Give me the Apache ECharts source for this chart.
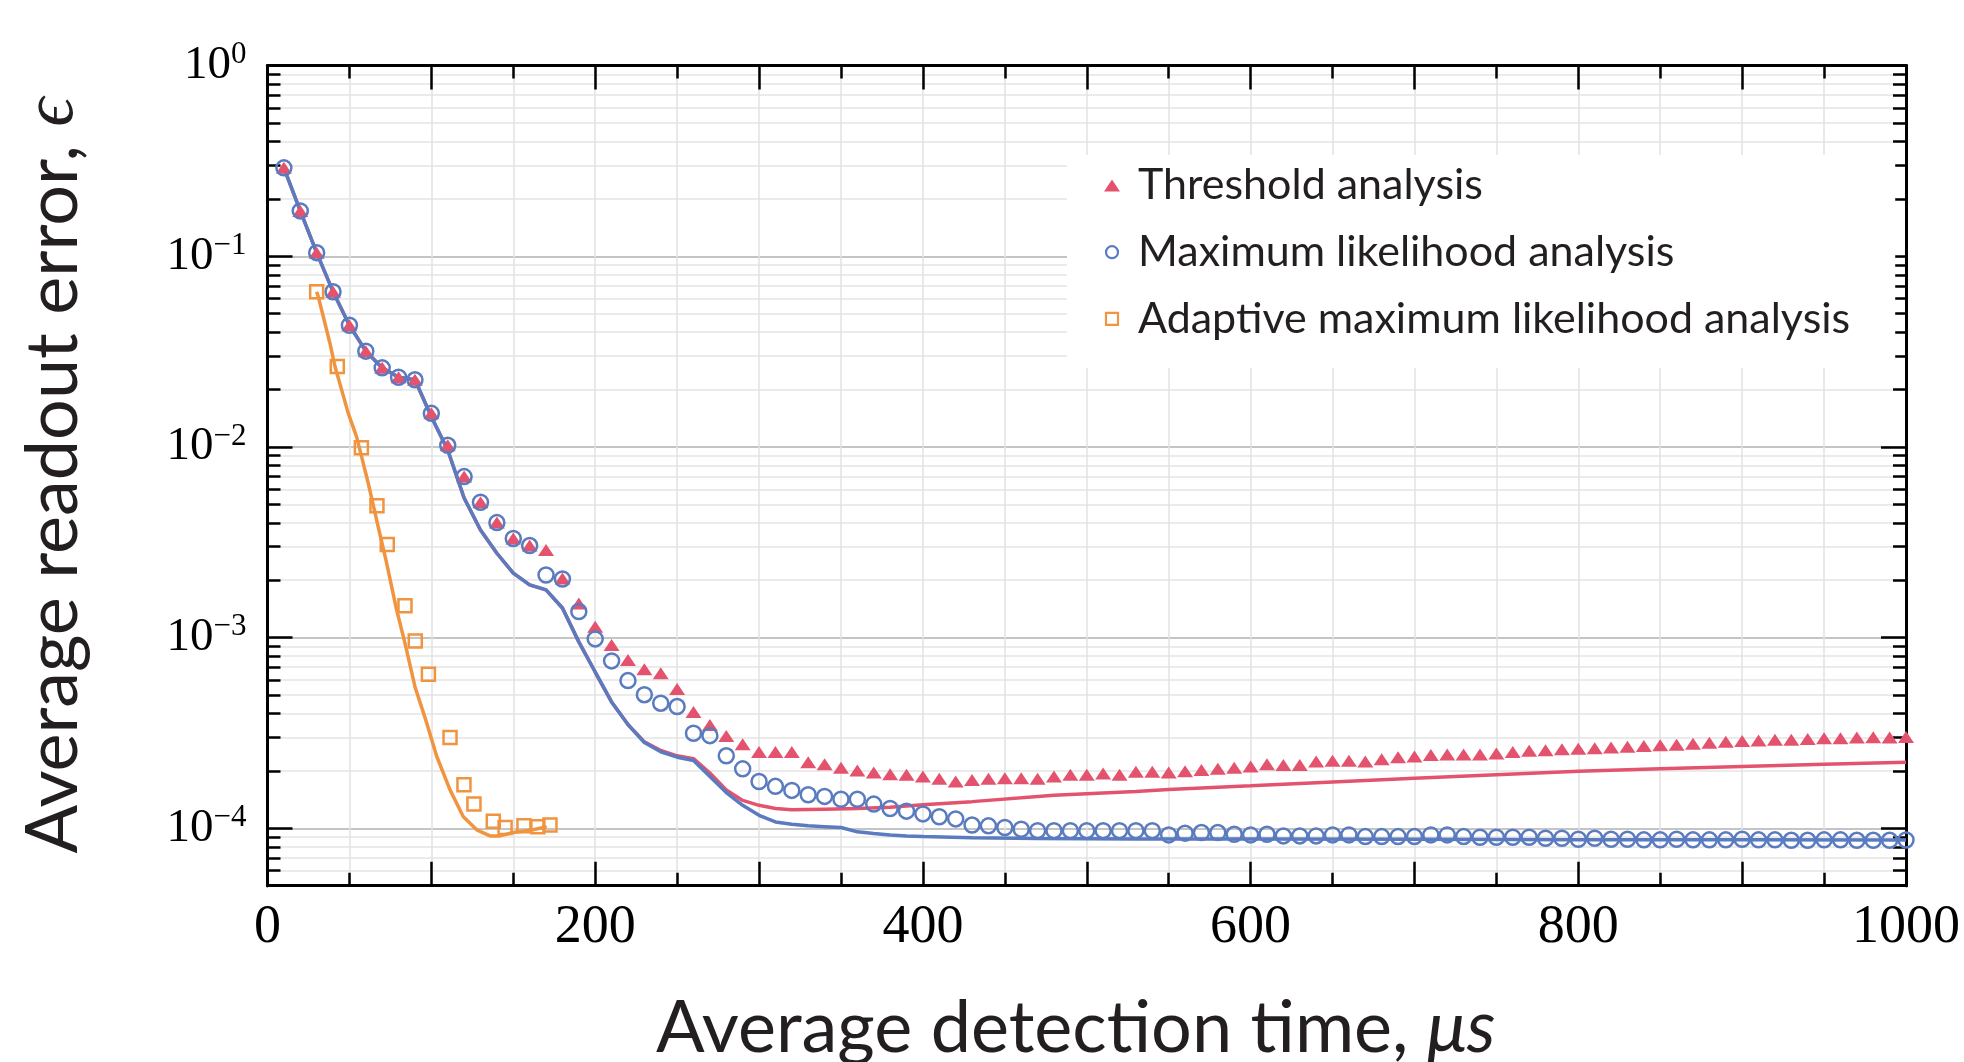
<!DOCTYPE html>
<html>
<head>
<meta charset="utf-8">
<script src="https://cdn.jsdelivr.net/npm/echarts@6/dist/echarts.min.js"></script>
<style>
html,body{margin:0;padding:0;background:#fff;}
#chart{width:1964px;height:1062px;}
</style>
</head>
<body>
<div id="chart"></div>
<script>
// ---------------- data ----------------
const xTimes = [10,20,30,40,50,60,70,80,90,100,110,120,130,140,150,160,170,180,190,200,
  210,220,230,240,250,260,270,280,290,300,310,320,330,340,350,360,370,380,390,400,
  410,420,430,440,450,460,470,480,490,500,510,520,530,540,550,560,570,580,590,600,
  610,620,630,640,650,660,670,680,690,700,710,720,730,740,750,760,770,780,790,800,
  810,820,830,840,850,860,870,880,890,900,910,920,930,940,950,960,970,980,990,1000];

const thresholdErr = [0.291,0.173,0.1045,0.0652,0.0435,0.0318,0.026,0.0232,0.0225,0.015,
  0.0102,0.00699,0.00513,0.00401,0.00331,0.00304,0.00288,0.00204,0.00151,0.00114,
  0.000916,0.000764,0.000683,0.00065,0.000538,0.000407,0.000348,0.000305,0.000276,0.000251,
  0.000251,0.000251,0.000222,0.000217,0.000208,0.000201,0.000196,0.000192,0.000191,0.000187,
  0.000182,0.000176,0.000179,0.000182,0.000183,0.000183,0.000182,0.000187,0.000191,0.000191,
  0.000194,0.000191,0.000198,0.000198,0.000196,0.000199,0.000202,0.000205,0.000208,0.000211,
  0.000217,0.000215,0.000215,0.000224,0.000226,0.000226,0.000224,0.00023,0.000236,0.000238,
  0.000242,0.000244,0.000244,0.000244,0.000247,0.000251,0.000255,0.000257,0.00026,0.000261,
  0.000263,0.000265,0.000268,0.00027,0.000273,0.000274,0.000278,0.000281,0.000284,0.000287,
  0.000289,0.000291,0.000291,0.000294,0.000297,0.000297,0.000299,0.0003,0.000299,0.000301];

const mlErr = [0.291,0.173,0.1045,0.0652,0.0435,0.0318,0.026,0.0232,0.0225,0.015,
  0.0102,0.00699,0.00513,0.00401,0.00331,0.00304,0.00213,0.00203,0.00137,0.000985,
  0.000755,0.000595,0.000502,0.000453,0.000435,0.000315,0.000306,0.00024,0.000205,0.000176,
  0.000166,0.000158,0.00015,0.000147,0.000142,0.000142,0.000134,0.000127,0.000123,0.000119,
  0.000115,0.000112,0.000104,0.000103,0.000101,0.0000989,0.0000972,0.0000972,0.0000972,0.0000972,
  0.0000972,0.0000972,0.0000972,0.0000972,0.0000923,0.0000943,0.000095,0.000095,0.000093,0.0000923,
  0.000093,0.0000912,0.0000912,0.0000912,0.0000923,0.0000923,0.0000905,0.0000905,0.0000905,0.0000905,
  0.0000923,0.0000923,0.0000905,0.0000898,0.0000898,0.0000898,0.0000898,0.0000887,0.0000887,0.0000876,
  0.0000887,0.0000876,0.0000876,0.000087,0.000087,0.0000876,0.000087,0.000087,0.000087,0.0000876,
  0.000087,0.000087,0.0000865,0.0000865,0.000087,0.000087,0.0000865,0.0000865,0.0000865,0.0000868];

const adaptiveTime = [30,42.6,57.3,66.8,73.1,83.9,90.2,98.2,111.4,119.9,126,137.8,145,156.5,165,172.4];
const adaptiveErr = [0.0652,0.0264,0.00991,0.00491,0.00308,0.00147,0.000961,0.000643,0.000299,0.000169,
  0.000134,0.000109,0.000101,0.000103,0.000102,0.000104];

const mlTheoryTime = [10,20,30,40,50,60,70,80,90,100,110,120,130,140,150,160,170,180,190,200,
  210,220,230,240,250,260,270,280,290,300,310,320,330,340,350,360,370,380,390,400,
  430,470,530,600,700,800,900,1000];
const mlTheoryErr = [0.291,0.173,0.1045,0.0652,0.0435,0.0318,0.026,0.0232,0.0225,0.0144,
  0.00964,0.0054,0.00367,0.00277,0.00218,0.00189,0.00178,0.00143,0.00095,0.00066,
  0.00046,0.00035,0.000282,0.000252,0.000236,0.000227,0.000187,0.000154,0.000132,0.000117,
  0.000108,0.000105,0.000103,0.000102,0.000101,0.0000958,0.000094,0.0000923,0.0000912,0.0000905,
  0.0000891,0.0000885,0.0000879,0.0000879,0.0000876,0.0000872,0.000087,0.0000868];

const thresholdTheoryTime = [10,20,30,40,50,60,70,80,90,100,110,120,130,140,150,160,170,180,190,200,
  210,220,230,240,250,260,270,280,290,300,310,320,340,360,380,400,430,480,530,550,
  600,650,700,750,800,850,900,950,1000];
const thresholdTheoryErr = [0.291,0.173,0.1045,0.0652,0.0435,0.0318,0.026,0.0232,0.0225,0.0144,
  0.00964,0.0054,0.00367,0.00277,0.00218,0.00189,0.00178,0.00143,0.00095,0.00066,
  0.00046,0.00035,0.000284,0.000256,0.00024,0.000232,0.000195,0.000159,0.00014,0.000132,
  0.000127,0.000125,0.000126,0.000127,0.000129,0.000133,0.000138,0.000149,0.000156,0.00016,
  0.000167,0.000175,0.000183,0.000191,0.000199,0.000205,0.000211,0.000217,0.000222];

const adaptiveTheoryTime = [30,31,38.1,41.2,49.3,54.4,61.5,66.6,72.3,78.8,83.9,90,97.2,103.3,111.4,119.5,127.7,135.8,141.9,150,162.2,170.4];
const adaptiveTheoryErr = [0.0652,0.0614,0.035,0.0264,0.015,0.0113,0.00645,0.00414,0.00255,0.0014,
  0.000935,0.000553,0.000356,0.000238,0.000159,0.000115,0.0000982,0.0000912,0.0000912,0.000095,0.0000982,0.000102];

const xTickLabels = [0,200,400,600,800,1000];
const yDecades = [-4,-3,-2,-1,0];
const yMinorMantissas = [2,3,4,5,6,7,8,9];
const yMinErr = 5e-5, yMaxErr = 1;
const seriesNames = ['Threshold analysis','Maximum likelihood analysis','Adaptive maximum likelihood analysis'];

// ---------------- styling ----------------
const RED = '#e4536d', BLUE = '#5a7bbf', ORANGE = '#f0943f';
const SERIF = '"Liberation Serif", "Times New Roman", serif';
const SANS = 'Lato, "Open Sans", sans-serif';

const L = Math.log10;
const pairs = (xs, ys) => xs.map((x, i) => [x, L(ys[i])]);

const yMin = L(yMinErr), yMax = L(yMaxErr);
const yMinorVals = [];
for (let d = -5; d <= -1; d++) yMinorMantissas.forEach(m => {
  const v = L(m) + d;
  if (v >= yMin - 1e-9 && v <= yMax) yMinorVals.push(v);
});

const chart = echarts.init(document.getElementById('chart'), null, {renderer: 'canvas'});

const xCommon = {
  type: 'value', min: 0, max: 1000, interval: 100,
  axisLine: {show: true, onZero: false, lineStyle: {color: '#000', width: 3}},
  axisTick: {show: true, inside: true, length: 24, lineStyle: {color: '#000', width: 2.5}},
  minorTick: {show: true, splitNumber: 2, length: 13, lineStyle: {color: '#000', width: 2.5}}
};
const yCommon = {
  type: 'value', min: yMin, max: yMax,
  axisLine: {show: true, onZero: false, lineStyle: {color: '#000', width: 3}}
};

const option = {
  backgroundColor: '#fff',
  animation: false,
  grid: {left: 267.5, right: 58, top: 65.6, bottom: 176.3, containLabel: false, outerBoundsMode: 'none'},
  xAxis: [
    Object.assign({}, xCommon, {
      position: 'bottom',
      name: 'Average detection time, {it|μs}',
      nameLocation: 'middle', nameGap: 107,
      nameTextStyle: {fontFamily: SANS, fontSize: 72, color: '#231f20', lineHeight: 72, padding: [0, 22, 0, 0],
        rich: {it: {fontFamily: SANS, fontSize: 72, fontStyle: 'italic', color: '#231f20', lineHeight: 72}}},
      axisLabel: {show: true, customValues: xTickLabels, margin: 15, fontFamily: SERIF, fontSize: 54, color: '#000', lineHeight: 54,
        formatter: v => String(Math.round(v))},
      splitLine: {show: true, lineStyle: {color: '#e2e2e2', width: 1.5}},
      minorSplitLine: {show: true, lineStyle: {color: '#e2e2e2', width: 1.5}}
    }),
    Object.assign({}, xCommon, {
      position: 'top',
      axisLabel: {show: false},
      splitLine: {show: false}, minorSplitLine: {show: false}
    })
  ],
  yAxis: [
    Object.assign({}, yCommon, {
      position: 'left',
      name: 'Average readout error, {it|ϵ}',
      nameLocation: 'middle', nameGap: 178,
      nameTextStyle: {fontFamily: SANS, fontSize: 72, color: '#231f20', lineHeight: 72,
        rich: {it: {fontFamily: SERIF, fontSize: 72, fontStyle: 'italic', color: '#231f20', lineHeight: 72}}},
      axisTick: {show: true, inside: true, length: 25, customValues: yDecades, lineStyle: {color: '#000', width: 2.5}},
      axisLabel: {show: true, customValues: yDecades, margin: 21,
        formatter: v => { const e = Math.round(v); return '{b|10}{s|' + (e === 0 ? '0' : '\u2212' + (-e)) + '}'; },
        rich: {
          b: {fontFamily: SERIF, fontSize: 47, color: '#000', lineHeight: 52},
          s: {fontFamily: SERIF, fontSize: 31, color: '#000', lineHeight: 30, verticalAlign: 'top'}
        }},
      splitLine: {show: true, lineStyle: {color: '#c4c4c4', width: 2}}
    }),
    Object.assign({}, yCommon, {
      position: 'left',
      axisTick: {show: true, inside: true, length: 13, customValues: yMinorVals, lineStyle: {color: '#000', width: 2.5}},
      axisLabel: {show: false},
      splitLine: {show: true, lineStyle: {color: '#e4e4e4', width: 1.5}}
    }),
    Object.assign({}, yCommon, {
      position: 'right',
      axisTick: {show: true, inside: true, length: 25, customValues: yDecades, lineStyle: {color: '#000', width: 2.5}},
      axisLabel: {show: false}, splitLine: {show: false}
    }),
    Object.assign({}, yCommon, {
      position: 'right',
      axisTick: {show: true, inside: true, length: 13, customValues: yMinorVals, lineStyle: {color: '#000', width: 2.5}},
      axisLabel: {show: false}, splitLine: {show: false}
    })
  ],
  legend: {
    show: true, orient: 'vertical', left: 1067, top: 155,
    selectedMode: false,
    backgroundColor: '#fff',
    padding: [5.5, 45, 24, 37],
    itemWidth: 42, itemHeight: 12, itemGap: 16.7,
    textStyle: {fontFamily: SANS, fontSize: 43, color: '#231f20', lineHeight: 50},
    data: [
      {name: seriesNames[0], icon: 'path://M8,0L16,12L0,12Z', itemStyle: {color: RED, borderWidth: 0}},
      {name: seriesNames[1], icon: 'circle', itemStyle: {color: '#fff', borderColor: BLUE, borderWidth: 2.2}},
      {name: seriesNames[2], icon: 'path://M0,0L10,0L10,10L0,10Z', itemStyle: {color: '#fff', borderColor: ORANGE, borderWidth: 2.2}}
    ]
  },
  series: [
    {name: 'Threshold theory', type: 'line', data: pairs(thresholdTheoryTime, thresholdTheoryErr),
      showSymbol: false, symbol: 'none', lineStyle: {color: RED, width: 3.5}, itemStyle: {color: RED}, z: 2, silent: true},
    {name: 'ML theory', type: 'line', data: pairs(mlTheoryTime, mlTheoryErr),
      showSymbol: false, symbol: 'none', lineStyle: {color: BLUE, width: 3.5}, itemStyle: {color: BLUE}, z: 3, silent: true},
    {name: 'Adaptive theory', type: 'line', data: pairs(adaptiveTheoryTime, adaptiveTheoryErr),
      showSymbol: false, symbol: 'none', lineStyle: {color: ORANGE, width: 3.5}, itemStyle: {color: ORANGE}, z: 3, silent: true},
    {name: seriesNames[0], type: 'scatter', data: pairs(xTimes, thresholdErr),
      symbol: 'triangle', symbolSize: [16, 12], itemStyle: {color: RED, opacity: 1}, z: 4, silent: true},
    {name: seriesNames[1], type: 'scatter', data: pairs(xTimes, mlErr),
      symbol: 'circle', symbolSize: 15, itemStyle: {color: 'rgba(255,255,255,0)', borderColor: BLUE, borderWidth: 2.5, opacity: 1}, z: 5, silent: true},
    {name: seriesNames[2], type: 'scatter', data: pairs(adaptiveTime, adaptiveErr),
      symbol: 'rect', symbolSize: 13, itemStyle: {color: 'rgba(255,255,255,0)', borderColor: ORANGE, borderWidth: 2.5, opacity: 1}, z: 5, silent: true}
  ]
};
chart.setOption(option);
</script>
</body>
</html>
